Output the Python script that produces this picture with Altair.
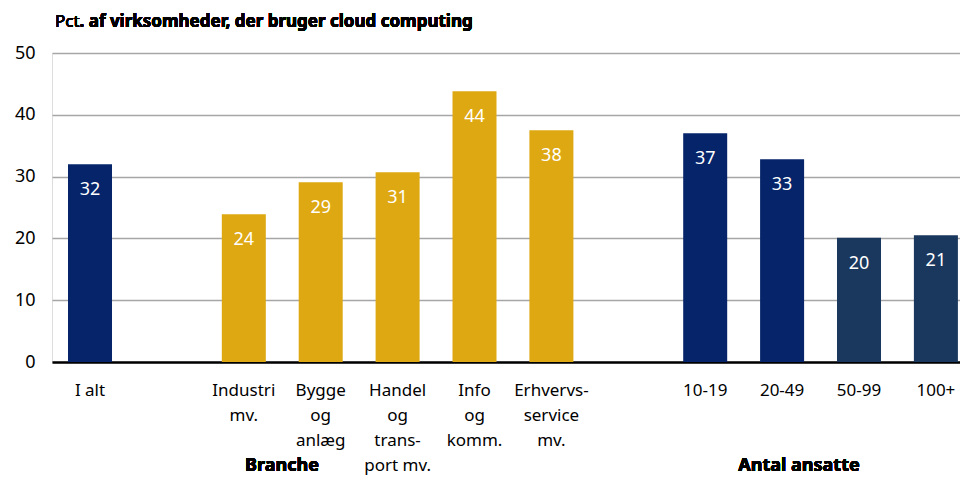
import altair as alt
import pandas as pd

slots = ["I alt", " ", "Industri|mv.", "Bygge|og|anlæg", "Handel|og|trans-|port mv.",
         "Info|og|komm.", "Erhvervs-|service|mv.", "  ", "10-19", "20-49", "50-99", "100+"]
bar_keys = ["I alt", "Industri|mv.", "Bygge|og|anlæg", "Handel|og|trans-|port mv.",
            "Info|og|komm.", "Erhvervs-|service|mv.", "10-19", "20-49", "50-99", "100+"]
values = [32.0, 23.9, 29.1, 30.7, 43.8, 37.5, 37.0, 32.8, 20.1, 20.5]
labels = ["32", "24", "29", "31", "44", "38", "37", "33", "20", "21"]
groups = ["total", "branche", "branche", "branche", "branche", "branche",
          "small", "small", "large", "large"]

df = pd.DataFrame({"key": bar_keys, "value": values, "label": labels, "grp": groups})

FONT = "Noto Sans"

x = alt.X("key:N", sort=slots,
          scale=alt.Scale(domain=slots, paddingInner=0.4278, paddingOuter=0.1177, align=0.884),
          axis=alt.Axis(title=None, labelAngle=0, labelExpr="split(datum.label, '|')",
                        labelFont=FONT, labelFontSize=17, labelColor="#000000",
                        labelLineHeight=25, labelPadding=20, labelBaseline="top",
                        ticks=False, domain=True, domainColor="#000000", domainWidth=2.5,
                        grid=False))
y = alt.Y("value:Q", scale=alt.Scale(domain=[0, 50], nice=False),
          axis=alt.Axis(title=None, values=[0, 10, 20, 30, 40, 50], grid=True,
                        gridColor="#a6a6a6", gridWidth=1.5, domain=False, ticks=False,
                        labelFont=FONT, labelFontSize=18, labelColor="#000000",
                        labelPadding=17))

color = alt.Color("grp:N", legend=None,
                  scale=alt.Scale(domain=["total", "branche", "small", "large"],
                                  range=["#05246a", "#dea812", "#05246a", "#1a375e"]))

bars = alt.Chart(df).mark_bar().encode(x=x, y=y, color=color)

vals = alt.Chart(df).mark_text(color="white", font=FONT, fontSize=18,
                               baseline="middle", dy=26).encode(
    x=alt.X("key:N", sort=slots), y="value:Q", text="label:N")

title_a = alt.Chart(df).mark_text(text="Pct", font=FONT, fontSize=17, align="left",
                                  baseline="middle", color="#000000").encode(
    x=alt.value(3), y=alt.value(-31))
title_b = alt.Chart(df).mark_text(text=". af virksomheder, der bruger cloud computing",
                                  font=FONT, fontSize=17, fontWeight="bold", align="left",
                                  baseline="middle", color="#000000").encode(
    x=alt.value(27.5), y=alt.value(-31))
grp_a = alt.Chart(df).mark_text(text="Branche", font=FONT, fontSize=18, fontWeight="bold",
                                align="center", baseline="middle", color="#000000").encode(
    x=alt.value(230), y=alt.value(413))
grp_b = alt.Chart(df).mark_text(text="Antal ansatte", font=FONT, fontSize=18, fontWeight="bold",
                                align="center", baseline="middle", color="#000000").encode(
    x=alt.value(747), y=alt.value(413))

chart = alt.layer(bars, vals, title_a, title_b, grp_a, grp_b).properties(
    width=908, height=309,
    autosize=alt.AutoSizeParams(type="none"),
    padding={"left": 44, "top": 45, "right": 0, "bottom": 114},
).configure_view(stroke=None).configure(background="white")

chart.save("out.html", embed_options={"renderer": "svg", "actions": False})
